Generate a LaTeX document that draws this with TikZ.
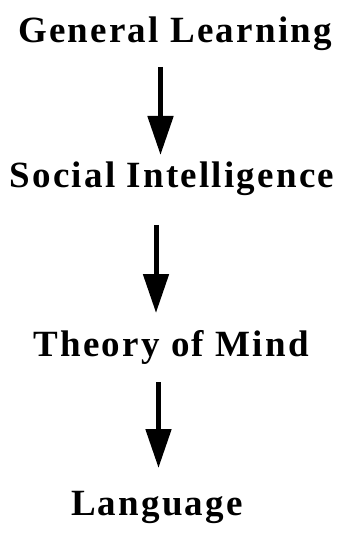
\documentclass[tikz,border=0pt]{standalone}
\usepackage{fontspec}
\setmainfont{Liberation Serif}[LetterSpace=6]
\usetikzlibrary{arrows.meta}
\tikzset{
  lbl/.style={font=\fontsize{37}{40}\selectfont\bfseries, anchor=base, inner sep=0pt},
  arr/.style={line width=5pt, -{Triangle[length=39pt,width=25pt]}}
}
\begin{document}
\begin{tikzpicture}[x=1pt,y=-1pt]
\useasboundingbox[fill=white] (0,0) rectangle (347,534);
\node[lbl] (gl) at (175,43) {General Learning};
\node[lbl] (si) at (172,188) {Social Intelligence};
\node[lbl] (tm) at (171,356) {Theory of Mind};
\node[lbl] (la) at (157,515) {Language};
\coordinate (a1s) at (160.5,67);
\coordinate (a1e) at (160.5,155);
\coordinate (a2s) at (156,225);
\coordinate (a2e) at (156,313);
\coordinate (a3s) at (158.5,382);
\coordinate (a3e) at (158.5,468);
\draw[arr] (a1s) -- (a1e);
\draw[arr] (a2s) -- (a2e);
\draw[arr] (a3s) -- (a3e);
\end{tikzpicture}
\end{document}
